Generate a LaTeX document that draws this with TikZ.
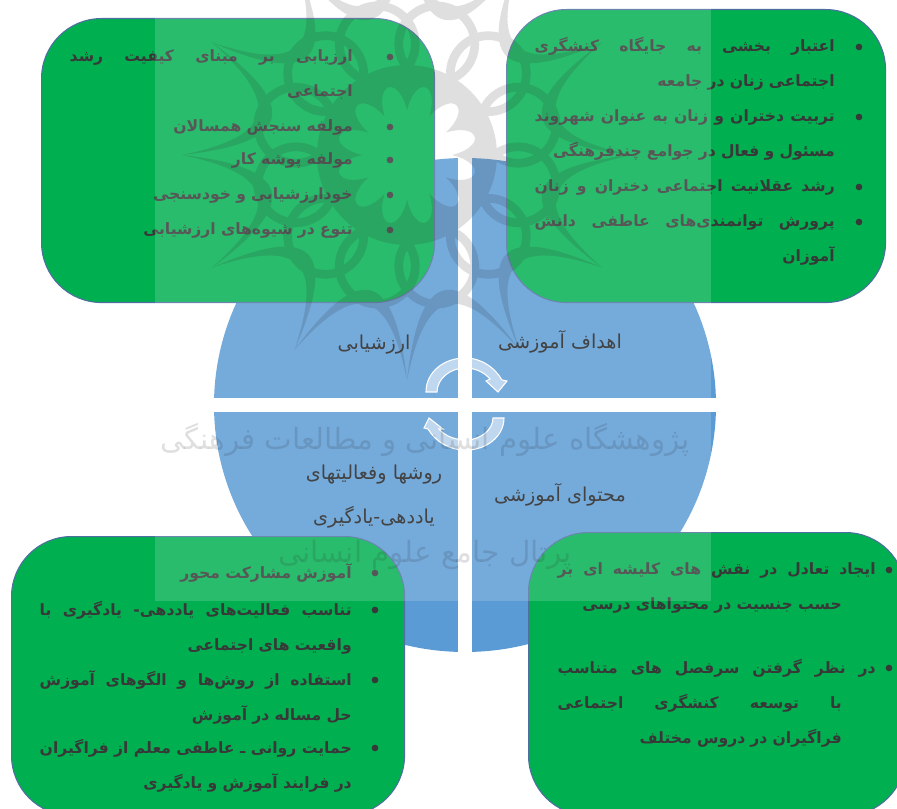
\documentclass[tikz,border=0pt]{standalone}
\usepackage{fontspec}
\usepackage{xcolor}
\usepackage{tikz}
\usetikzlibrary{arrows.meta, positioning, shapes.geometric}
\newfontfamily\farsifont[Script=Arabic]{DejaVu Sans}
\TeXXeTstate=1
\definecolor{discblue}{HTML}{5B9BD5}
\definecolor{panelgreen}{HTML}{00B050}
\definecolor{panelborder}{HTML}{4F6FA0}
\definecolor{itemgray}{HTML}{383838}
\definecolor{labelgray}{HTML}{202020}
\newcommand{\jline}[2][0pt]{\leavevmode\hbox to \hsize{\spaceskip=.318em plus 1fil\relax\beginR\hskip#1\relax #2\endR}}
\newcommand{\rline}[2][0pt]{\leavevmode\hbox to \hsize{\hfil\beginR\hskip#1\relax #2\endR}}

\begin{document}
\begin{tikzpicture}[
    x=0.75pt, y=-0.75pt,
    panel/.style={rounded corners=45pt, draw=panelborder, fill=panelgreen, line width=0.8pt, anchor=north west, inner sep=0pt},
    disc/.style={ellipse, fill=discblue, inner sep=0pt, minimum width=376.5pt, minimum height=370.5pt},
    gap/.style={fill=white, inner sep=0pt},
    item/.style={font=\farsifont\bfseries\fontsize{11.7}{26.25}\selectfont, text=itemgray, align=right, anchor=base east, inner sep=0pt},
    dot/.style={circle, fill=itemgray, inner sep=0pt, minimum size=5pt},
    quarterlabel/.style={font=\farsifont\fontsize{14.4}{33}\selectfont, text=labelgray, align=center, inner sep=0pt},
    turnarrow/.style={fill=white, fill opacity=0.55, draw=white, line width=0.8pt},
    stamp/.style={font=\farsifont\fontsize{22}{30}\selectfont, text=black, opacity=0.15, inner sep=0pt}
]
\clip (0,0) rectangle (897,809);

% Disc and its four quarters
\node[disc] (wheel) at (465,405) {};
\node[gap, minimum width=10.5pt, minimum height=400pt] (vgap) at (465,405) {};
\node[gap, minimum width=410pt, minimum height=10.5pt] (hgap) at (465,405) {};

% Turning arrows
\draw[turnarrow] (426,392) .. controls (426,372) and (444,358) .. (465,358) .. controls (482,358) and (495,368) .. (502,380) -- (507,381) -- (498,392) -- (486,381) -- (490,379) .. controls (484,372) and (475,368) .. (465,368) .. controls (450,368) and (437,379) .. (437,392) -- cycle;
\draw[turnarrow] (504,418) .. controls (504,436) and (487,450) .. (466,450) .. controls (449,450) and (436,442) .. (428,429) -- (424,428) -- (429,418) -- (443,429) -- (439,429) .. controls (445,436) and (455,440) .. (466,440) .. controls (480,440) and (493,430) .. (493,418) -- cycle;

% Quarter labels
\node[quarterlabel] (lgoals) at (560,342) {\beginR اهداف آموزشی\endR};
\node[quarterlabel] (levals) at (374,345) {\beginR ارزشیابی\endR};
\node[quarterlabel] (lmethods) at (374,497) {\beginR روشها وفعالیتهای\endR\\ \beginR یاددهی-یادگیری\endR};
\node[quarterlabel] (lcontent) at (560,495) {\beginR محتوای آموزشی\endR};

% Panels
\node[panel, minimum width=284.25pt, minimum height=219.75pt] (goals) at (506,9) {};
\node[panel, minimum width=294.75pt, minimum height=213pt] (evals) at (41,18) {};
\node[panel, minimum width=294.75pt, minimum height=209.25pt] (methods) at (11,536) {};
\node[panel, minimum width=282.75pt, minimum height=212.25pt] (content) at (528,532) {};

% Top right list
\node[dot] (goalsdota) at (859,47) {};
\node[dot] (goalsdotb) at (859,117) {};
\node[dot] (goalsdotc) at (859,187) {};
\node[dot] (goalsdotd) at (859,222) {};
\node[item, text width=225pt] (goalsa) at (835,52) {\jline{اعتبار بخشی به جایگاه کنشگری}\\ \rline{اجتماعی زنان در جامعه}};
\node[item, text width=225pt] (goalsb) at (835,122) {\jline{تربیت دختران و زنان به عنوان شهروند}\\ \rline{مسئول و فعال در جوامع چندفرهنگی}};
\node[item, text width=225pt] (goalsc) at (835,192) {\jline{رشد عقلانیت اجتماعی دختران و زنان}};
\node[item, text width=225pt] (goalsd) at (835,227) {\jline{پرورش توانمندی‌های عاطفی دانش}\\ \rline{آموزان}};

% Top left list
\node[dot] (evalsdota) at (390,57) {};
\node[dot] (evalsdotb) at (390,127) {};
\node[dot] (evalsdotc) at (390,160) {};
\node[dot] (evalsdotd) at (390,195) {};
\node[dot] (evalsdote) at (390,230) {};
\node[item, text width=212.25pt] (evalsa) at (353,62) {\jline{ارزیابی بر مبنای کیفیت رشد}\\ \rline{اجتماعی}};
\node[item, text width=212.25pt] (evalsb) at (353,132) {\rline{مولفه سنجش همسالان}};
\node[item, text width=212.25pt] (evalsc) at (353,165) {\rline{مولفه پوشه کار}};
\node[item, text width=212.25pt] (evalsd) at (353,200) {\rline{خودارزشیابی و خودسنجی}};
\node[item, text width=212.25pt] (evalse) at (353,235) {\rline{تنوع در شیوه‌های ارزشیابی}};

% Bottom left list
\node[dot] (methodsdota) at (375,573) {};
\node[dot] (methodsdotb) at (375,610) {};
\node[dot] (methodsdotc) at (375,680) {};
\node[dot] (methodsdotd) at (375,748) {};
\node[item, text width=234pt] (methodsa) at (352,578) {\rline{آموزش مشارکت محور}};
\node[item, text width=234pt] (methodsb) at (352,615) {\jline{تناسب فعالیت‌های یاددهی- یادگیری با}\\ \rline{واقعیت های اجتماعی}};
\node[item, text width=234pt] (methodsc) at (352,685) {\jline{استفاده از روش‌ها و الگوهای آموزش}\\ \rline{حل مساله در آموزش}};
\node[item, text width=234pt] (methodsd) at (352,753) {\jline{حمایت روانی ـ عاطفی معلم از فراگیران}\\ \rline{در فرایند آموزش و یادگیری}};

% Bottom right list
\node[dot] (contentdota) at (889,570) {};
\node[dot] (contentdotb) at (889,668) {};
\node[item, text width=238.5pt] (contenta) at (876,575) {\jline{ایجاد تعادل در نقش های کلیشه ای بر}\\ \rline[25.5pt]{حسب جنسیت در محتواهای درسی}};
\node[item, text width=238.5pt] (contentb) at (876,673) {\jline{در نظر گرفتن سرفصل های متناسب}\\ \jline[25.5pt]{با توسعه کنشگری اجتماعی}\\ \rline[25.5pt]{فراگیران در دروس مختلف}};

% Watermark
\begin{scope}[shift={(407,155)}, transparency group, opacity=0.15]
\foreach \a in {0,30,...,330}{
    \fill (\a:225) .. controls (\a+8:135) and (\a+22:135) .. (\a+30:225) .. controls (\a+24:116) and (\a+6:116) .. cycle;
    \draw[line width=6.5pt] (\a+15:115) circle[radius=38];
}
\fill[even odd rule] (0,0) circle[radius=90] (0:45)
    \foreach \a in {0,30,...,330}{ .. controls (\a+6:80) and (\a+24:80) .. (\a+30:45) } -- cycle;
\end{scope}
\node[stamp] (markup) at (425,440) {\beginR پژوهشگاه علوم انسانی و مطالعات فرهنگی\endR};
\node[stamp] (markdown) at (425,555) {\beginR پرتال جامع علوم انسانی\endR};

% Pale sheet over the middle
\fill[white, opacity=0.16] (155,0) rectangle (711,601);
\end{tikzpicture}
\end{document}
